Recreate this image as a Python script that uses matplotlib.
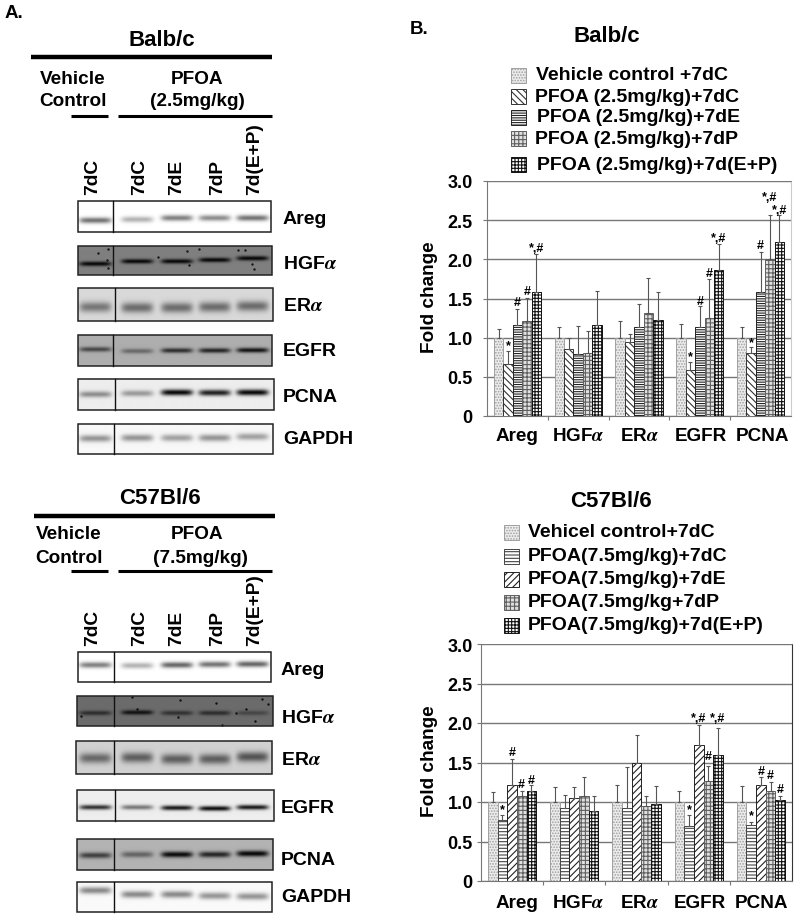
import numpy as np
import matplotlib.pyplot as plt
from matplotlib.patches import Rectangle

plt.rcParams['font.family'] = ['Liberation Sans', 'DejaVu Sans']
plt.rcParams['font.weight'] = 'bold'
plt.rcParams['mathtext.fontset'] = 'stix'
plt.rcParams['hatch.linewidth'] = 0.8

# Datos de las graficas
genes = ['Areg', 'HGF$\\alpha$', 'ER$\\alpha$', 'EGFR', 'PCNA']
balb_val = [[1.0, 0.67, 1.16, 1.21, 1.58],
            [1.0, 0.86, 0.79, 0.81, 1.16],
            [1.0, 0.94, 1.14, 1.31, 1.22],
            [1.0, 0.59, 1.14, 1.25, 1.87],
            [1.0, 0.81, 1.58, 2.00, 2.22]]
balb_top = [[1.11, 0.83, 1.37, 1.51, 2.07],
            [1.13, 0.99, 1.15, 1.09, 1.60],
            [1.21, 1.05, 1.43, 1.76, 1.58],
            [1.18, 0.69, 1.41, 1.75, 2.19],
            [1.14, 0.88, 2.09, 2.57, 2.56]]
c57_val = [[1.0, 0.77, 1.21, 1.08, 1.14],
           [1.0, 0.92, 1.05, 1.08, 0.88],
           [1.0, 0.92, 1.49, 0.95, 0.97],
           [1.0, 0.70, 1.72, 1.27, 1.59],
           [1.0, 0.71, 1.21, 1.14, 1.03]]
c57_top = [[1.13, 0.84, 1.55, 1.14, 1.21],
           [1.19, 1.09, 1.19, 1.32, 1.07],
           [1.22, 1.44, 1.85, 1.08, 1.20],
           [1.14, 0.84, 1.98, 1.46, 1.94],
           [1.20, 0.75, 1.32, 1.25, 1.07]]

# (grupo, barra, texto, altura)
balb_marks = [(0, 1, '*', 0.91), (0, 2, '#', 1.45), (0, 3, '#', 1.59), (0, 4, '*,#', 2.15),
              (3, 1, '*', 0.77), (3, 2, '#', 1.47), (3, 3, '#', 1.83), (3, 4, '*,#', 2.27),
              (4, 1, '*', 0.94), (4, 2, '#', 2.18), (4, 3, '*,#', 2.80), (4, 4, '*,#', 2.63)]
c57_marks = [(0, 1, '*', 0.91), (0, 2, '#', 1.63), (0, 3, '#', 1.23), (0, 4, '#', 1.28),
             (3, 1, '*', 0.91), (3, 2, '*,#', 2.06), (3, 3, '#', 1.58), (3, 4, '*,#', 2.06),
             (4, 1, '*', 0.83), (4, 2, '#', 1.39), (4, 3, '#', 1.34), (4, 4, '#', 1.17)]

balb_legend = ['Vehicle control +7dC', 'PFOA (2.5mg/kg)+7dC', 'PFOA (2.5mg/kg)+7dE',
               'PFOA (2.5mg/kg)+7dP', 'PFOA (2.5mg/kg)+7d(E+P)']
c57_legend = ['Vehicel control+7dC', 'PFOA(7.5mg/kg)+7dC', 'PFOA(7.5mg/kg)+7dE',
              'PFOA(7.5mg/kg+7dP', 'PFOA(7.5mg/kg)+7d(E+P)']

# Intensidad de las bandas de cada blot (carril 1 a 5)
blot_names = ['Areg', 'HGF$\\alpha$', 'ER$\\alpha$', 'EGFR', 'PCNA', 'GAPDH']
lanes = ['7dC', '7dC', '7dE', '7dP', '7d(E+P)']
balb_dark = [[0.55, 0.30, 0.50, 0.45, 0.55],
             [0.95, 0.95, 0.95, 0.95, 0.95],
             [0.45, 0.50, 0.50, 0.50, 0.50],
             [0.60, 0.40, 0.75, 0.80, 0.90],
             [0.40, 0.35, 0.95, 0.85, 0.95],
             [0.40, 0.40, 0.35, 0.40, 0.35]]
c57_dark = [[0.50, 0.30, 0.60, 0.55, 0.60],
            [0.60, 0.85, 0.55, 0.60, 0.35],
            [0.50, 0.55, 0.55, 0.55, 0.60],
            [0.80, 0.50, 0.90, 0.95, 0.90],
            [0.65, 0.45, 0.95, 0.80, 0.97],
            [0.45, 0.45, 0.45, 0.40, 0.40]]
balb_bg = [1.0, 0.50, 0.85, 0.68, 0.93, 0.97]
c57_bg = [1.0, 0.42, 0.82, 0.93, 0.70, 0.98]

# Layout en pixeles
balb_boxes = [(78, 202, 271, 233, 113), (78, 247, 272, 276, 113), (78, 289, 273, 322, 115),
              (78, 336, 272, 367, 113), (78, 380, 274, 411, 115), (78, 425, 273, 455, 114)]
c57_boxes = [(78, 653, 271, 683, 114), (77, 697, 273, 727, 114), (76, 742, 272, 775, 114),
             (77, 791, 274, 822, 115), (77, 840, 273, 871, 114), (77, 883, 272, 913, 114)]
balb_band_y = [[.63, .60, .55, .55, .55], [.62, .53, .53, .48, .42], [.58, .60, .60, .58, .55],
               [.46, .52, .50, .50, .49], [.51, .48, .45, .46, .45], [.48, .46, .46, .46, .42]]
c57_band_y = [[.43, .45, .43, .41, .40], [.57, .55, .57, .57, .57], [.52, .50, .55, .55, .48],
              [.56, .56, .58, .60, .56], [.53, .50, .50, .50, .47], [.27, .41, .41, .46, .48]]
band_sigma = [2.2, 1.7, 3.8, 1.8, 2.2, 2.6]
lane_x = [95, 137, 177, 215, 253]
label_x = [93, 140, 177, 218, 255]

# Motas oscuras de los blots HGF
balb_spots_x = [98, 108, 107, 158, 187, 189, 199, 238, 245, 252, 254, 108]
balb_spots_y = [254, 250, 261, 258, 252, 266, 250, 251, 251, 265, 270, 269]
c57_spots_x = [81, 132, 137, 178, 216, 222, 236, 246, 255, 262, 268, 180]
c57_spots_y = [717, 698, 710, 718, 704, 726, 714, 710, 722, 700, 705, 701]

fig = plt.figure(figsize=(8, 9.2), dpi=100)
page = fig.add_axes([0, 0, 1, 1], zorder=0)


def draw_blot(box, bg, band_y, dark, sigma):
    x0, y0, x1, y1, div = box
    xx, yy = np.meshgrid(np.arange(x0, x1 + 1), np.arange(y0, y1 + 1))
    img = np.full(xx.shape, bg, dtype=float)
    for cx, fy, d in zip(lane_x, band_y, dark):
        cy = y0 + fy * (y1 - y0)
        band = np.exp(-((yy - cy) / sigma) ** 2 / 2) * np.exp(-((xx - cx) / 16.0) ** 6)
        img *= 1 - d * band
    page.imshow(img, cmap='gray', vmin=0, vmax=1, extent=(x0, x1, y1, y0), aspect='auto')
    page.add_patch(Rectangle((x0, y0), x1 - x0, y1 - y0, fill=False, ec='#222222', lw=1.1, zorder=3))
    page.plot([div, div], [y0, y1], color='#111111', lw=1, zorder=3)


def draw_panel(title, tx, ty, rule_y, rule_x, sub_y, head_y, dose, dose_x, veh_x, names_y, lane_y,
               name_x, boxes, bgs, band_y, dark):
    page.text(tx, ty, title, ha='center', va='center', fontsize=16)
    page.plot(rule_x, [rule_y, rule_y], color='k', lw=3.2, solid_capstyle='butt')
    page.text(veh_x, head_y[0], 'Vehicle', ha='center', va='center', fontsize=13.7)
    page.text(veh_x, head_y[1], 'Control', ha='center', va='center', fontsize=13.7)
    page.text(197, head_y[0], 'PFOA', ha='center', va='center', fontsize=13.7)
    page.text(dose_x, head_y[1], dose, ha='center', va='center', fontsize=13.7)
    page.plot([71, 108], [sub_y, sub_y], color='k', lw=2.2, solid_capstyle='butt')
    page.plot([118, 272], [sub_y, sub_y], color='k', lw=2.2, solid_capstyle='butt')
    for x, lab in zip(label_x, lanes):
        page.text(x, lane_y, lab, rotation=90, ha='center', va='bottom', fontsize=13.8)
    for i in range(6):
        draw_blot(boxes[i], bgs[i], band_y[i], dark[i], band_sigma[i])
        page.text(name_x, names_y[i], blot_names[i], ha='left', va='center', fontsize=14)


draw_panel('Balb/c', 162, 41, 58, [31, 272], 117, [79, 102], '(2.5mg/kg)', 197, 73,
           [220, 265, 307, 352, 398, 440], 195, 283,
           balb_boxes, balb_bg, balb_band_y, balb_dark)
draw_panel('C57Bl/6', 160, 499, 517, [34, 275], 572, [535, 559], '(7.5mg/kg)', 201, 69,
           [671, 719, 761, 809, 861, 898], 646, 281,
           c57_boxes, c57_bg, c57_band_y, c57_dark)
page.scatter(balb_spots_x, balb_spots_y, s=3, color='#151515', lw=0, zorder=2)
page.scatter(c57_spots_x, c57_spots_y, s=3, color='#101010', lw=0, zorder=2)

page.text(5, 14, 'A.', ha='left', va='center', fontsize=13.5)
page.text(410, 29, 'B.', ha='left', va='center', fontsize=13.5)
page.text(607, 36, 'Balb/c', ha='center', va='center', fontsize=16)
page.text(611, 502, 'C57Bl/6', ha='center', va='center', fontsize=16)
page.set_xlim(0, 800)
page.set_ylim(920, 0)
page.axis('off')

# Estilos de las barras, arriba y abajo
balb_styles = [dict(fc='#ececec', ec='#a0a0a0', hatch='......'),
               dict(fc='white', ec='#333333', hatch='\\\\\\\\\\'),
               dict(fc='white', ec='#222222', hatch='-------'),
               dict(fc='#e0e0e0', ec='#606060', hatch='++++'),
               dict(fc='white', ec='#111111', hatch='+++++')]
c57_styles = [dict(fc='#ececec', ec='#a0a0a0', hatch='......'),
              dict(fc='white', ec='#444444', hatch='-----'),
              dict(fc='white', ec='#222222', hatch='/////'),
              dict(fc='#e0e0e0', ec='#606060', hatch='++++'),
              dict(fc='white', ec='#111111', hatch='+++++')]


def draw_chart(rect, values, tops, marks, styles, label_shift, label_y, right_color):
    left, top, right, bottom = rect
    ax = fig.add_axes([left / 800, 1 - bottom / 920, (right - left) / 800, (bottom - top) / 920], zorder=1)
    w = 0.155
    vals = np.array(values)
    errs = np.array(tops) - vals
    for j in range(5):
        x = np.arange(5) + (j - 2) * w
        ax.bar(x, vals[:, j], w, lw=0.7, zorder=3, **styles[j])
        ax.errorbar(x, vals[:, j], yerr=[np.zeros(5), errs[:, j]], fmt='none', ecolor='#555555',
                    elinewidth=0.8, capsize=1.5, capthick=0.8, zorder=4)
    for g, b, txt, y in marks:
        ax.text(g + (b - 2) * w, y, txt, ha='center', va='center', fontsize=9, clip_on=False, zorder=5)
    ax.set_xlim(-0.5, 4.5)
    ax.set_ylim(0, 3)
    ax.set_yticks(np.arange(0, 3.5, 0.5), ['0', '0.5', '1.0', '1.5', '2.0', '2.5', '3.0'], fontsize=13)
    ax.yaxis.grid(True, color='#777777', lw=1)
    ax.set_axisbelow(True)
    ax.tick_params(axis='y', length=3, width=0.8, color='#777777', pad=(left - 473 - 4) * 0.72)
    ax.set_xticks(np.arange(0.5, 4.5), minor=False)
    ax.set_xticklabels([])
    ax.tick_params(axis='x', length=3, width=0.8, color='#777777')
    for spine in ['top', 'left', 'bottom']:
        ax.spines[spine].set_color('#777777')
    ax.spines['top'].set_linewidth(0.6)
    ax.spines['right'].set_color(right_color)
    for i, name in enumerate(genes):
        page.text(left + (i + 0.5) * (right - left) / 5 + label_shift[i], label_y, name,
                  ha='center', va='center', fontsize=13.6)
    page.text(429, (top + bottom) / 2 - 2, 'Fold change', rotation=90, ha='center', va='center', fontsize=13.7)
    return ax


draw_chart((487, 182, 791, 417), balb_val, balb_top, balb_marks, balb_styles,
           [0, 0, 1, 1, 2], 437, '#cccccc')
draw_chart((481, 645, 792, 882), c57_val, c57_top, c57_marks, c57_styles,
           [5, 4, 3, 1, 1], 904, '#333333')


def draw_legend(labels, swatch_x, text_x, rows, styles):
    for lab, tx, y, st in zip(labels, text_x, rows, styles):
        page.add_patch(Rectangle((swatch_x, y - 7), 15, 15, lw=0.7, **st))
        page.text(tx, y, lab, ha='left', va='center', fontsize=14)


draw_legend(balb_legend, 511, [536, 535, 537, 535, 537], [76, 97, 118, 139, 165], balb_styles)
draw_legend(c57_legend, 504, [528, 528, 528, 528, 528], [533, 557, 580, 603, 626], c57_styles)

fig.savefig('out.png', dpi=100)
